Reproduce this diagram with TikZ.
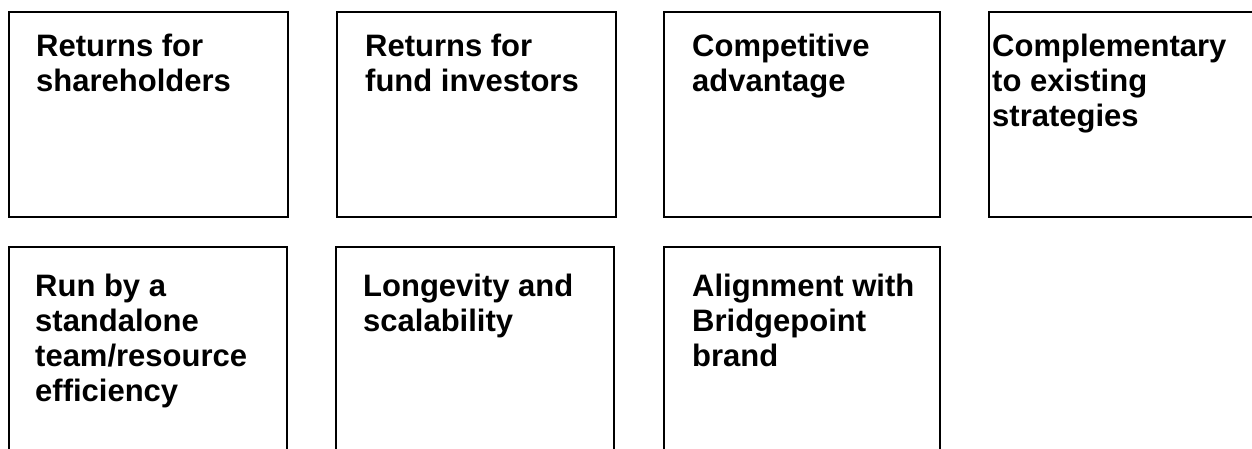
\documentclass[tikz,border=0pt]{standalone}
\usepackage{fontspec}
\setmainfont{Liberation Sans}
\begin{document}
\begin{tikzpicture}[x=1pt,y=-1pt,
  box/.style={draw=black, line width=1.5pt},
  lbl/.style={anchor=north west, inner sep=0pt, align=left,
    font=\fontsize{31}{35}\selectfont\bfseries}]
\useasboundingbox (0,0) rectangle (1252,448);
\fill[white] (0,0) rectangle (1252,448);
\clip (0,0) rectangle (1252,448);
% row 1
\draw[box] (9,12) rectangle (288,217);
\draw[box] (337,12) rectangle (616,217);
\draw[box] (664,12) rectangle (940,217);
\draw[box] (989,12) rectangle (1270,217);
% row 2
\draw[box] (9,247) rectangle (287,470);
\draw[box] (336,247) rectangle (614,470);
\draw[box] (664,247) rectangle (940,470);
% labels
\node[lbl] (t1) at (36,34) {Returns for\\shareholders};
\node[lbl] (t2) at (365,34) {Returns for\\fund investors};
\node[lbl] (t3) at (692,34) {Competitive\\advantage};
\node[lbl] (t4) at (992,34) {Complementary\\to existing\\strategies};
\node[lbl] (t5) at (35,274) {Run by a\\standalone\\team/resource\\efficiency};
\node[lbl] (t6) at (363,274) {Longevity and\\scalability};
\node[lbl] (t7) at (692,274) {Alignment with\\Bridgepoint\\brand};
\end{tikzpicture}
\end{document}
